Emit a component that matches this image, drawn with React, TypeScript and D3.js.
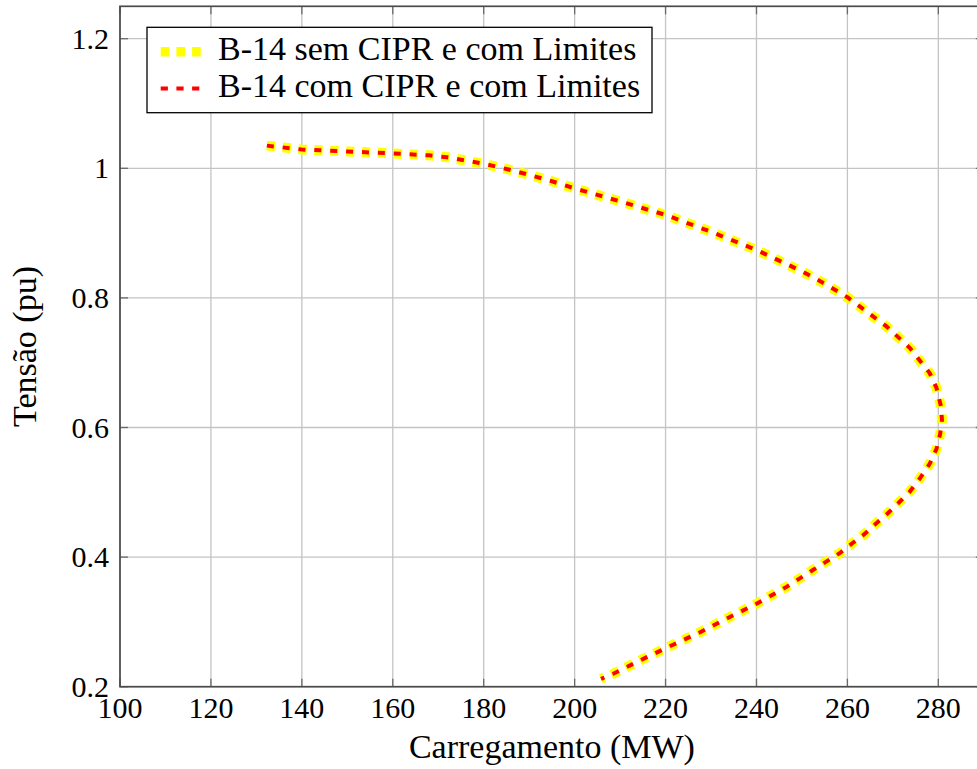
import * as d3 from "d3";
import { useEffect, useRef } from "react";

// dados
const carregamento = [
  132.3, 140, 150, 160, 168, 172, 176, 180, 185, 190,
  195, 200, 210, 220, 230, 240, 250, 255, 260, 264,
  268.6, 273.7, 278.1, 279.6, 280.5, 280.8, 280.4, 279.6, 278.1, 276.0,
  273.6, 271.0, 268.5, 266.0, 263.5, 261.0, 258.3, 252.4, 246.6, 240,
  233.4, 227.6, 221.4, 215.1, 208.5, 205.8,
];
const tensaoSemCipr = [
  1.035, 1.029, 1.026, 1.023, 1.02, 1.017, 1.012, 1.007, 0.999, 0.99,
  0.98, 0.969, 0.949, 0.928, 0.902, 0.874, 0.841, 0.822, 0.801, 0.78,
  0.756, 0.723, 0.684, 0.661, 0.635, 0.612, 0.59, 0.567, 0.544, 0.522,
  0.5, 0.482, 0.465, 0.45, 0.434, 0.421, 0.406, 0.38, 0.354, 0.328,
  0.305, 0.284, 0.264, 0.243, 0.22, 0.212,
];
const tensaoComCipr = [
  1.035, 1.029, 1.026, 1.023, 1.02, 1.017, 1.012, 1.007, 0.999, 0.99,
  0.98, 0.969, 0.949, 0.928, 0.902, 0.874, 0.841, 0.822, 0.801, 0.78,
  0.756, 0.723, 0.684, 0.661, 0.635, 0.612, 0.59, 0.567, 0.544, 0.522,
  0.5, 0.482, 0.465, 0.45, 0.434, 0.421, 0.406, 0.38, 0.354, 0.328,
  0.305, 0.284, 0.264, 0.243, 0.22, 0.212,
];
const xTicks = [100, 120, 140, 160, 180, 200, 220, 240, 260, 280];
const yTicks = [0.2, 0.4, 0.6, 0.8, 1, 1.2];
const legendLabels = ["B-14 sem CIPR e com Limites", "B-14 com CIPR e com Limites"];

const W = 977;
const H = 769;
const FONT = "'Liberation Serif', 'Times New Roman', serif";

export default function App() {
  const ref = useRef<SVGSVGElement>(null);

  useEffect(() => {
    const svg = d3.select(ref.current);
    svg.selectAll("*").remove();

    // escalas
    const x = d3.scaleLinear().domain([100, 290]).range([120, 983.8]);
    const y = d3.scaleLinear().domain([0.2, 1.25]).range([686.7, 6.3]);
    const [x0, x1] = x.range();
    const [y0, y1] = y.range();

    // grade
    const grid = svg.append("g").attr("stroke", "#c4c4c4").attr("stroke-width", 1.3);
    xTicks.forEach((t) => {
      grid.append("line").attr("x1", x(t)).attr("x2", x(t)).attr("y1", y0).attr("y2", y1);
    });
    yTicks.forEach((t) => {
      grid.append("line").attr("x1", x0).attr("x2", x1).attr("y1", y(t)).attr("y2", y(t));
    });

    // marcas (para dentro, nos quatro lados)
    const tk = svg.append("g").attr("stroke", "#6a6a6a").attr("stroke-width", 1.3);
    const L = 8;
    xTicks.forEach((t) => {
      tk.append("line").attr("x1", x(t)).attr("x2", x(t)).attr("y1", y0).attr("y2", y0 - L);
      tk.append("line").attr("x1", x(t)).attr("x2", x(t)).attr("y1", y1).attr("y2", y1 + L);
    });
    yTicks.forEach((t) => {
      tk.append("line").attr("x1", x0).attr("x2", x0 + L).attr("y1", y(t)).attr("y2", y(t));
      tk.append("line").attr("x1", x1).attr("x2", x1 - L).attr("y1", y(t)).attr("y2", y(t));
    });

    // moldura
    svg.append("rect")
      .attr("x", x0).attr("y", y1)
      .attr("width", x1 - x0).attr("height", y0 - y1)
      .attr("fill", "none").attr("stroke", "#4a4a4a").attr("stroke-width", 1.7);

    // rótulos dos eixos
    xTicks.forEach((t) => {
      svg.append("text")
        .attr("x", x(t)).attr("y", 718)
        .attr("text-anchor", "middle")
        .attr("font-family", FONT).attr("font-size", 30)
        .text(String(t));
    });
    yTicks.forEach((t) => {
      svg.append("text")
        .attr("x", 109).attr("y", y(t) + 10)
        .attr("text-anchor", "end")
        .attr("font-family", FONT).attr("font-size", 30)
        .text(String(t));
    });

    svg.append("text")
      .attr("x", (120 + 983.8) / 2).attr("y", 758)
      .attr("text-anchor", "middle")
      .attr("font-family", FONT).attr("font-size", 34)
      .text("Carregamento (MW)");

    svg.append("text")
      .attr("transform", `translate(36, ${(y0 + y1) / 2}) rotate(-90)`)
      .attr("text-anchor", "middle")
      .attr("font-family", FONT).attr("font-size", 34)
      .text("Tensão (pu)");

    // curvas
    const pts1 = carregamento.map((c, i) => [c, tensaoSemCipr[i]] as [number, number]);
    const pts2 = carregamento.map((c, i) => [c, tensaoComCipr[i]] as [number, number]);
    const line = d3.line<[number, number]>().x((d) => x(d[0])).y((d) => y(d[1]));

    svg.append("path")
      .attr("d", line(pts1))
      .attr("fill", "none").attr("stroke", "#ffff00")
      .attr("stroke-width", 10).attr("stroke-dasharray", "8.3 7.6");
    svg.append("path")
      .attr("d", line(pts2))
      .attr("fill", "none").attr("stroke", "#ff0000")
      .attr("stroke-width", 4).attr("stroke-dasharray", "7 8.9");

    // legenda
    const lg = svg.append("g");
    lg.append("rect")
      .attr("x", 147).attr("y", 27.3).attr("width", 505).attr("height", 85.4)
      .attr("fill", "white").attr("stroke", "black").attr("stroke-width", 1.3);
    const styles = [
      { color: "#ffff00", w: 9.5, dash: "8.7 7" },
      { color: "#ff0000", w: 4, dash: "7.2 8.5" },
    ];
    legendLabels.forEach((lab, i) => {
      const cy = 51.7 + i * 36.7;
      lg.append("line")
        .attr("x1", 160.7).attr("x2", 201).attr("y1", cy).attr("y2", cy)
        .attr("stroke", styles[i].color).attr("stroke-width", styles[i].w)
        .attr("stroke-dasharray", styles[i].dash);
      lg.append("text")
        .attr("x", 218).attr("y", 60 + i * 36.7)
        .attr("font-family", FONT).attr("font-size", 34)
        .text(lab);
    });
  }, []);

  return (
    <svg
      ref={ref}
      width={W}
      height={H}
      style={{ position: "absolute", left: 0, top: 0, background: "white" }}
    />
  );
}
